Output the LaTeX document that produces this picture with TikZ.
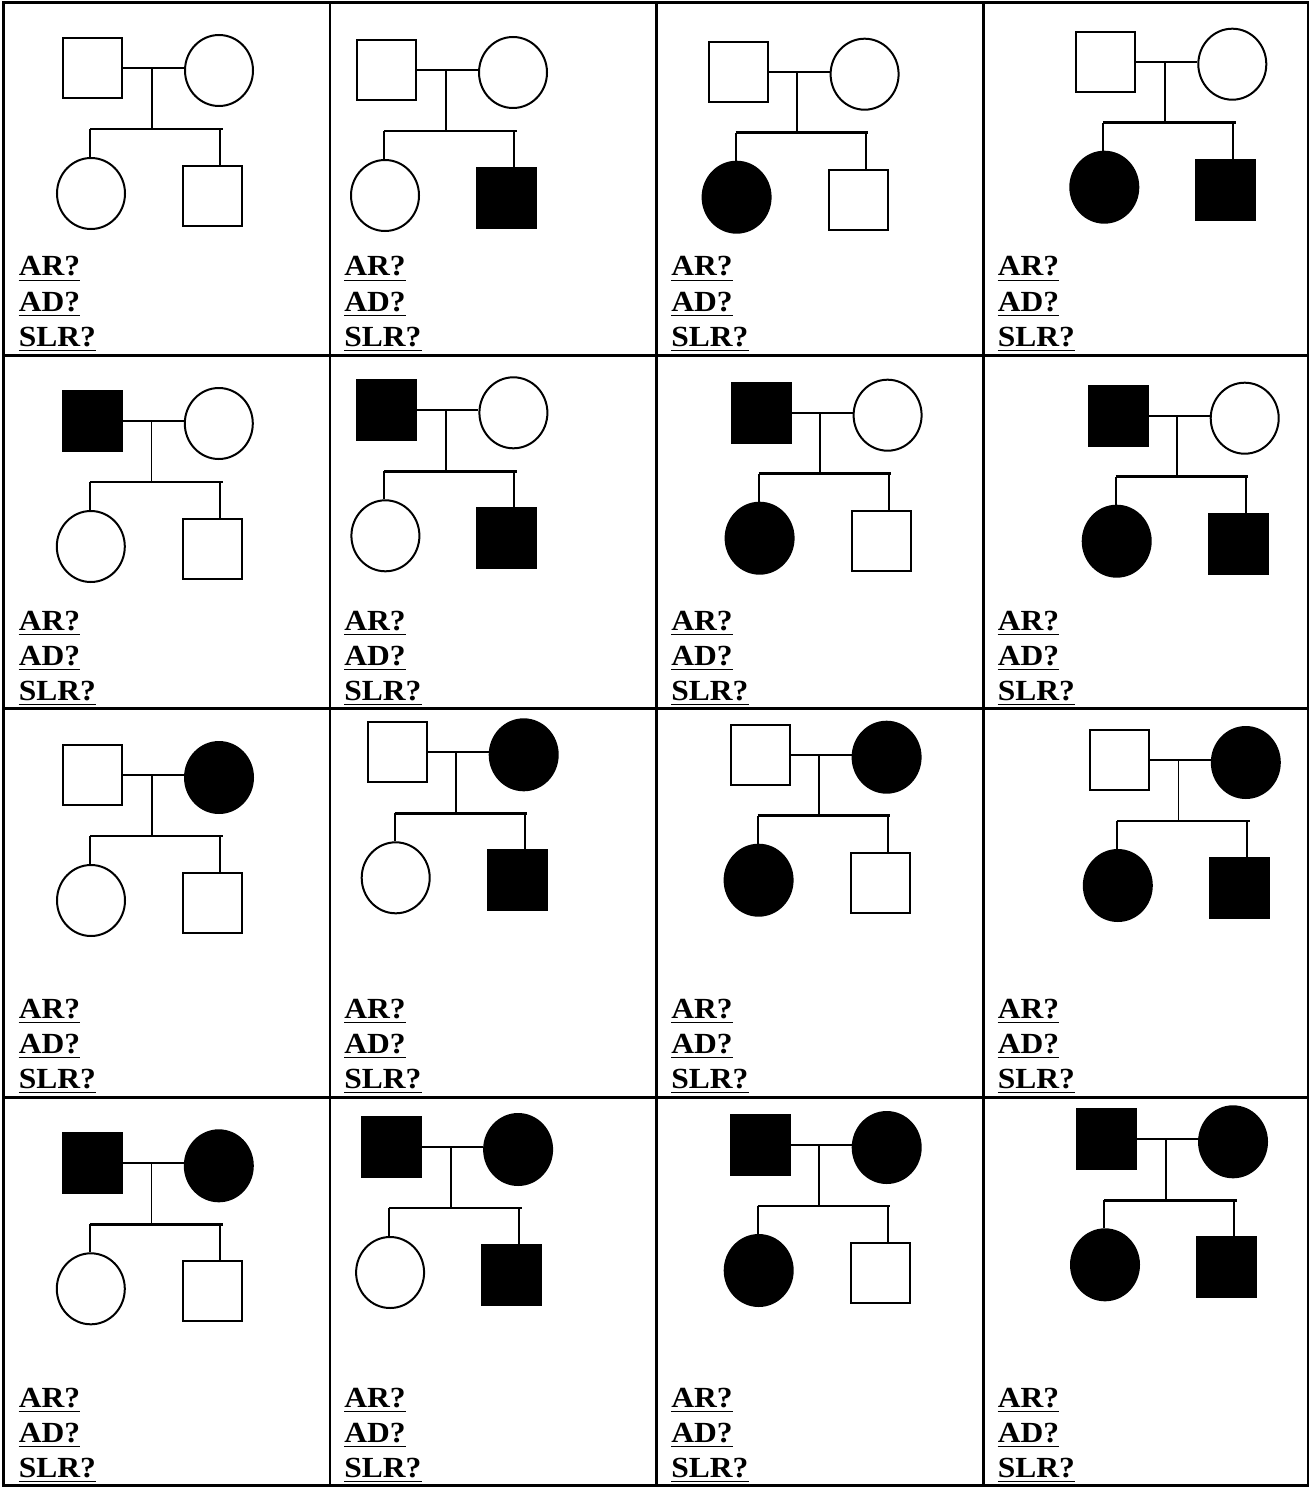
\documentclass[tikz,border=0pt]{standalone}
\usepackage{fontspec}
\newfontfamily\lblfont{Liberation Serif}[FakeStretch=1.08]
\usetikzlibrary{shapes.geometric,calc}
\tikzset{
  male/.style={rectangle,draw=black,line width=1.5pt,minimum width=44.25pt,minimum height=45pt,inner sep=0pt},
  female/.style={ellipse,draw=black,line width=1.5pt,minimum width=51pt,minimum height=53.25pt,inner sep=0pt},
  unaff/.style={fill=white},
  aff/.style={fill=black},
  pline/.style={line width=1.4pt},
  sibline/.style={line width=1.9pt},
  gridline/.style={line width=2pt},
  lbl/.style={anchor=base west,inner sep=0pt,font=\lblfont\bfseries\fontsize{21.9pt}{26pt}\selectfont},
  uline/.style={line width=1pt}
}
% #1 name, #2 junction (x,y in px), #3 father, #4 mother, #5 daughter, #6 son
\newcommand\pedi[6]{%
  \begin{scope}[shift={(#2)}]
    \node[male,#3] (#1f) at (-59.2,0) {};
    \node[female,#4] (#1m) at (67.3,2.5) {};
    \coordinate (#1j) at (0,0);
    \coordinate (#1s) at (0,61);
    \coordinate (#1sl) at (-61.7,61);
    \coordinate (#1sr) at (71,61);
    \coordinate (#1sd) at (68.3,61);
    \node[female,#5] (#1d) at (-60.7,125.5) {};
    \node[male,#6] (#1b) at (60.8,128) {};
    \draw[pline] (#1f.east) -- (#1f.east -| #1m.west);
    \draw[pline] (#1j) -- (#1s);
    \draw[sibline] (#1sl) -- (#1sr);
    \draw[pline] (#1sl) -- (#1sl |- #1d.north);
    \draw[pline] (#1sd) -- (#1sd |- #1b.north);
  \end{scope}}
\begin{document}
\begin{tikzpicture}[x=0.75pt,y=-0.75pt]
  \useasboundingbox[fill=white] (0,0) rectangle (1311,1487);
  % grid
  \draw[gridline] (3.3,2.7) rectangle (1308,1485.5);
  \foreach \gx in {330,656.5,983.3} \draw[gridline] (\gx,2.7) -- (\gx,1485.5);
  \foreach \gy in {355.5,708.5,1097.5} \draw[gridline] (3.3,\gy) -- (1308,\gy);
  % pedigrees
  \pedi{p11}{151.7,68}{unaff}{unaff}{unaff}{unaff}
  \pedi{p12}{445.7,70}{unaff}{unaff}{unaff}{aff}
  \pedi{p13}{797.3,71.7}{unaff}{unaff}{aff}{unaff}
  \pedi{p14}{1165,61.7}{unaff}{unaff}{aff}{aff}
  \pedi{p21}{151.5,421}{aff}{unaff}{unaff}{unaff}
  \pedi{p22}{446.1,410.3}{aff}{unaff}{unaff}{aff}
  \pedi{p23}{820.3,412.7}{aff}{unaff}{aff}{unaff}
  \pedi{p24}{1177.4,415.7}{aff}{unaff}{aff}{aff}
  \pedi{p31}{151.7,775}{unaff}{aff}{unaff}{unaff}
  \pedi{p32}{456.4,752.3}{unaff}{aff}{unaff}{aff}
  \pedi{p33}{819.3,754.7}{unaff}{aff}{aff}{unaff}
  \pedi{p34}{1178.5,760}{unaff}{aff}{aff}{aff}
  \pedi{p41}{151.5,1163.3}{aff}{aff}{unaff}{unaff}
  \pedi{p42}{450.8,1147}{aff}{aff}{unaff}{aff}
  \pedi{p43}{819.4,1145}{aff}{aff}{aff}{unaff}
  \pedi{p44}{1165.7,1139.3}{aff}{aff}{aff}{aff}
  % labels
  \foreach \c/\lx in {1/18.5,2/344,3/671,4/997.5}{
    \foreach \r/\ly in {1/276,2/630,3/1018,4/1407}{
      \node[lbl] (t\r\c a) at (\lx,\ly) {AR?};
      \node[lbl] (t\r\c b) at (\lx,\ly+35) {AD?};
      \node[lbl] (t\r\c c) at (\lx,\ly+70) {SLR?};
      \foreach \k in {a,b,c}
        \draw[uline] ($(t\r\c\k.base west)+(0,4.5)$) -- ($(t\r\c\k.base east)+(0,4.5)$);
    }
  }
\end{tikzpicture}
\end{document}
